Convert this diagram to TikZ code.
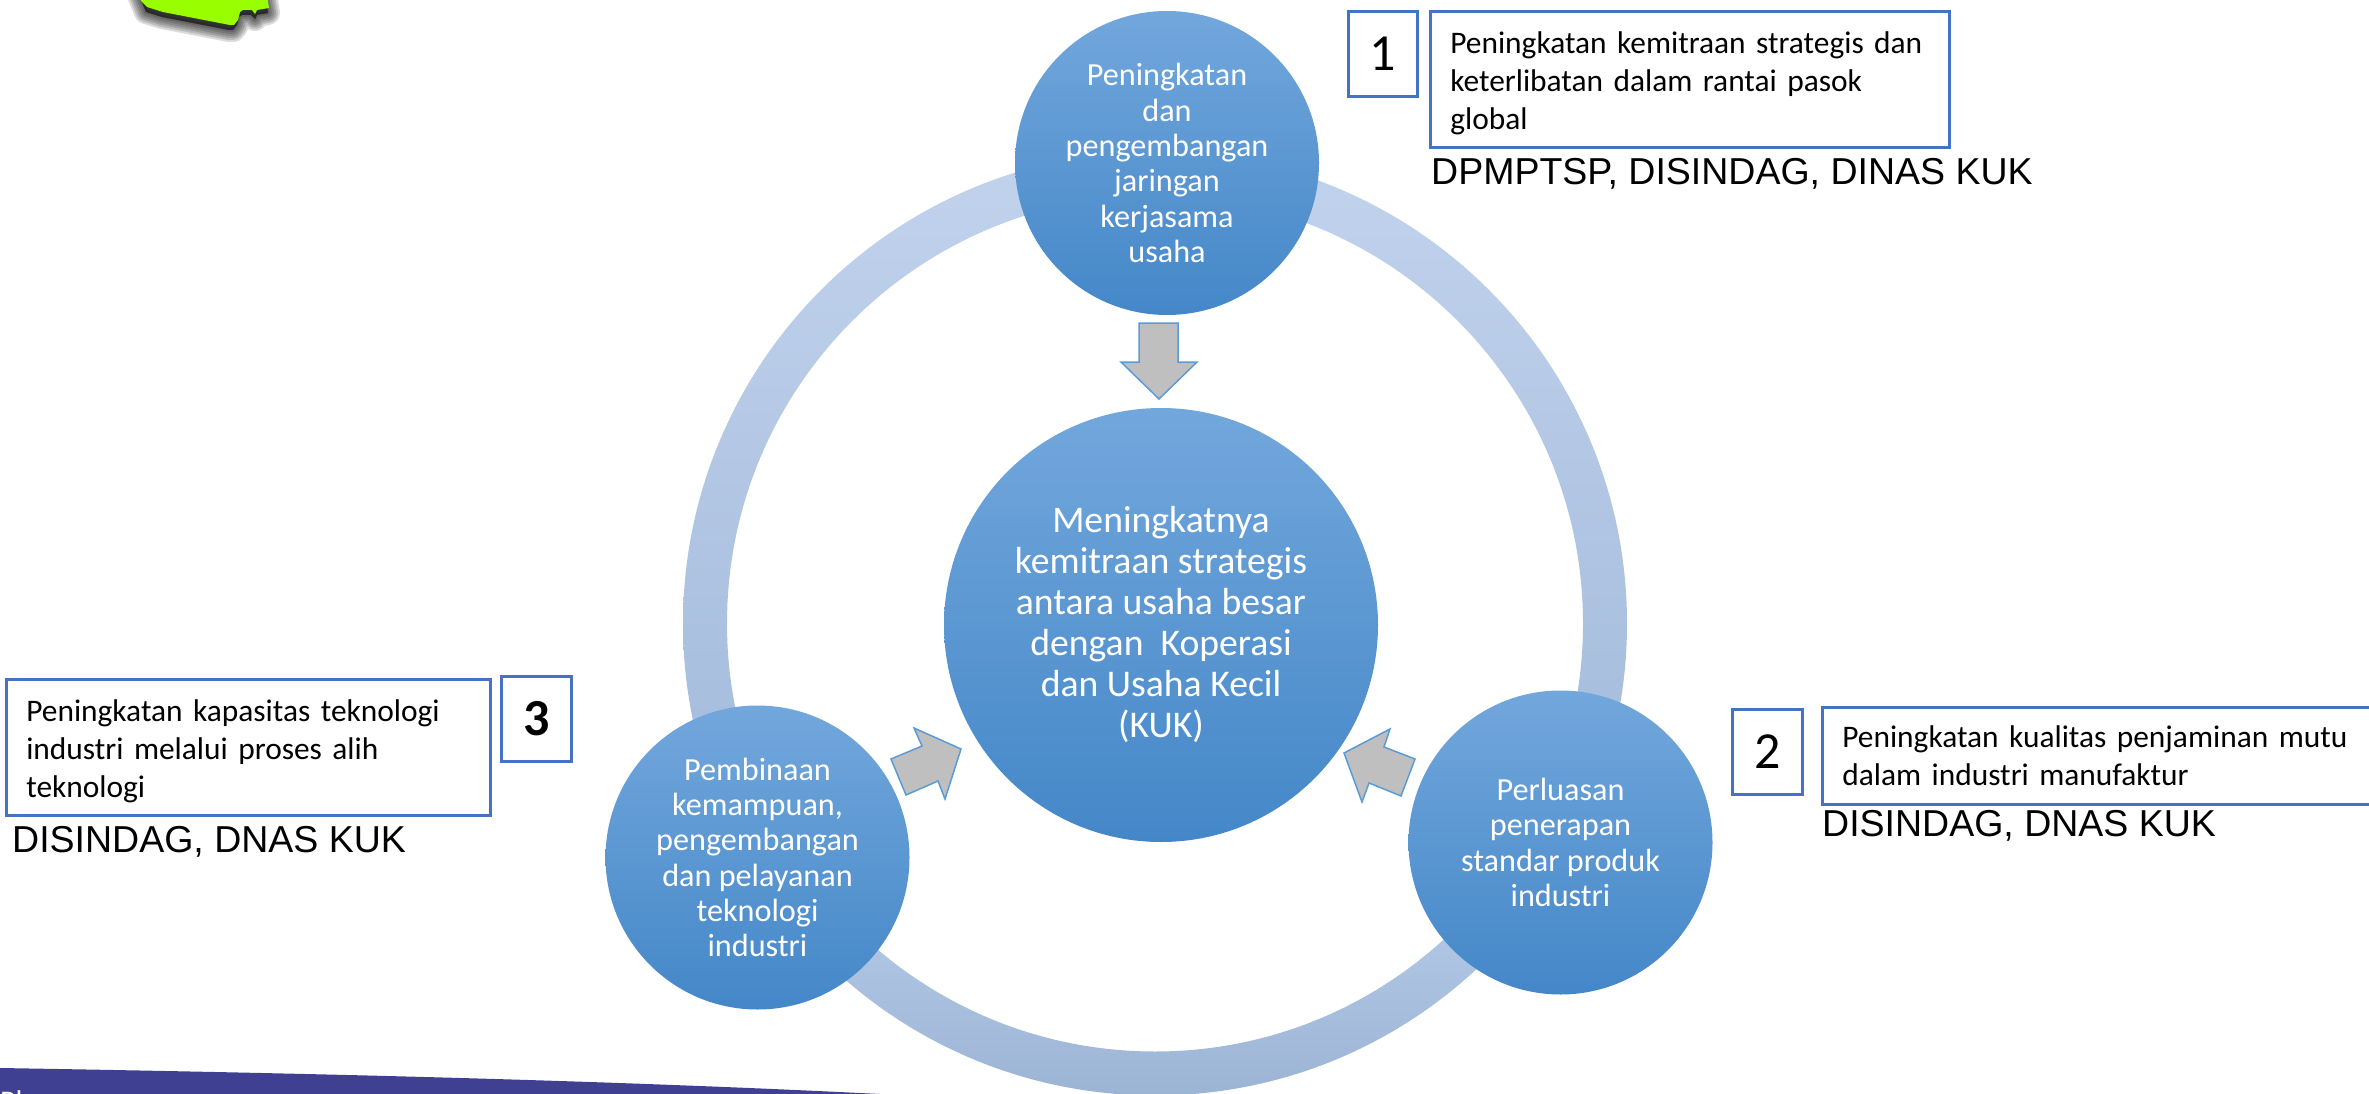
\documentclass[tikz,border=0pt]{standalone}
\usepackage{fontspec}
\setmainfont{Carlito}
\newfontfamily\arialf{Liberation Sans}
\definecolor{bandc}{HTML}{404093}
\definecolor{greenc}{HTML}{99FF00}
\definecolor{boxc}{HTML}{4472C4}
\definecolor{arrowline}{HTML}{5B9BD5}
\definecolor{arrowfill}{HTML}{BFBFBF}
\definecolor{ringA}{HTML}{C2D3ED}
\definecolor{ringB}{HTML}{A2BADB}
\definecolor{ringC}{HTML}{BDD1F0}
\definecolor{ringD}{HTML}{9CB4D4}
\definecolor{ballT}{HTML}{72A7DC}
\definecolor{ballM}{HTML}{5296D8}
\definecolor{ballB}{HTML}{4487C8}
\tikzset{
  ball/.style={circle,minimum size=304pt,inner sep=0pt,align=center,text=white,
    top color=ballT,middle color=ballM,bottom color=ballB,
    font=\fontsize{32.2}{35.3}\selectfont},
  bigball/.style={ball,minimum size=434pt,font=\fontsize{37.7}{41}\selectfont},
  infobox/.style={rectangle,draw=boxc,line width=2.6pt,fill=white,anchor=north west,
    align=left,inner sep=0pt,font=\fontsize{31.4}{38}\selectfont},
  numbox/.style={rectangle,draw=boxc,line width=2.6pt,fill=white,anchor=north west,
    inner sep=0pt,align=center,font=\fontsize{52}{60}\selectfont},
  agency/.style={anchor=base west,inner sep=0pt,font=\arialf\fontsize{37.5}{40}\selectfont},
  blockarrow/.style={draw=arrowline,fill=arrowfill,line width=1.5pt,line join=miter},
}
\begin{document}
\begin{tikzpicture}[x=1pt,y=-1pt]
\useasboundingbox (0,0) rectangle (2369,1094);
% bottom band
\fill[bandc] (0,1068) .. controls (300,1073) and (600,1080) .. (880,1094) -- (0,1094) -- cycle;
\node[anchor=base west,text=white,inner sep=0pt,font=\fontsize{30}{34}\selectfont] (bandtext) at (0,1111) {Pl};
% green shape with soft shadow
\begin{scope}
\clip (0,0) rectangle (2369,1094);
\foreach \w in {24,20,16,12,8,4}{
  \draw[black,opacity=0.14,line width=\w pt,line join=round,fill=black,fill opacity=0.14,xshift=-1pt,yshift=-5pt]
    (140,-10) -- (147,7) -- (163,12) -- (230,25) -- (234,25) -- (238,20) -- (240,12) -- (243,10) -- (252,10) -- (256,14) -- (258,10) -- (269,8) -- (266,-10) -- cycle;
}
\fill[greenc] (140,-10) -- (141,1) -- (147,7) -- (163,12) -- (230,25) -- (234,25) -- (238,20) -- (240,12) -- (243,10) -- (252,10) -- (255,14) -- (257,10) -- (269,8) -- (266,-10) -- cycle;
\end{scope}
% ring
\begin{scope}[even odd rule]
\clip (1155,623.5) circle[radius=472pt] (1155,623.5) circle[radius=428pt];
\shade[top color=ringA,bottom color=ringB] (670,140) rectangle (1640,830);
\shade[top color=ringC,bottom color=ringD] (670,830) rectangle (1640,1097);
\end{scope}
% circles
\node[bigball] (centre) at (1161,625) {Meningkatnya\\kemitraan strategis\\antara usaha besar\\dengan\ \ Koperasi\\dan Usaha Kecil\\(KUK)};
\node[ball] (top) at (1167,163) {Peningkatan\\dan\\pengembangan\\jaringan\\kerjasama\\usaha};
\node[ball] (left) at (757.5,857.5) {Pembinaan\\kemampuan,\\pengembangan\\dan pelayanan\\teknologi\\industri};
\node[ball] (right) at (1560.5,842.5) {Perluasan\\penerapan\\standar produk\\industri};
% block arrows
\draw[blockarrow] (1139,323) -- (1178,323) -- (1178,362) -- (1197,362) -- (1159,399) -- (1121,362) -- (1139,362) -- cycle;
\draw[blockarrow] (891,759) -- (922,746) -- (914,728) -- (961,749) -- (945,799) -- (938,781) -- (906,795) -- cycle;
\draw[blockarrow] (1415,759) -- (1384,747) -- (1390,729) -- (1344,753) -- (1362,802) -- (1369,783) -- (1401,796) -- cycle;
% boxes
\node[numbox,minimum width=69pt,minimum height=85pt] (n1) at (1347,10) {1};
\node[infobox,minimum width=519pt,minimum height=136pt,text width=479pt] (b1) at (1429,10) {\rule{0pt}{29pt}Peningkatan kemitraan strategis dan\\keterlibatan dalam rantai pasok\\global};
\node[agency] (a1) at (1431,185) {DPMPTSP, DISINDAG, DINAS KUK};
\node[numbox,minimum width=70pt,minimum height=85pt] (n2) at (1731,708) {2};
\node[infobox,minimum width=600pt,minimum height=97pt,text width=560pt] (b2) at (1821,706) {Peningkatan kualitas penjaminan mutu\\dalam industri manufaktur};
\node[agency] (a2) at (1822,836) {DISINDAG, DNAS KUK};
\node[numbox,minimum width=70pt,minimum height=85pt,font=\fontsize{52}{60}\selectfont\bfseries] (n3) at (500,675) {3};
\node[infobox,minimum width=484pt,minimum height=136pt,text width=444pt] (b3) at (5,678) {\rule{0pt}{29pt}Peningkatan kapasitas teknologi\\industri melalui proses alih\\teknologi};
\node[agency] (a3) at (12,852) {DISINDAG, DNAS KUK};
\end{tikzpicture}
\end{document}
